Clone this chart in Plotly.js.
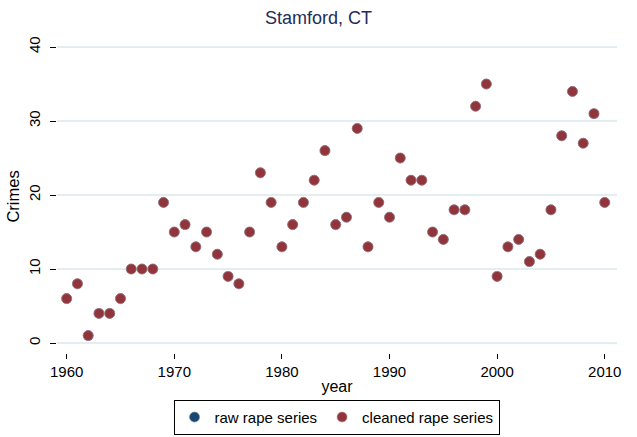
<!DOCTYPE html>
<html>
<head>
<meta charset="utf-8">
<script src="https://cdn.plot.ly/plotly-3.0.1.min.js"></script>
<style>html,body{margin:0;padding:0;background:#fff;}#chart{width:637px;height:437px;}</style>
</head>
<body>
<div id="chart"></div>
<script>
const years = [1960,1961,1962,1963,1964,1965,1966,1967,1968,1969,1970,1971,1972,1973,1974,1975,1976,1977,1978,1979,1980,1981,1982,1983,1984,1985,1986,1987,1988,1989,1990,1991,1992,1993,1994,1995,1996,1997,1998,1999,2000,2001,2002,2003,2004,2005,2006,2007,2008,2009,2010];
const rawRape = [6,8,1,4,4,6,10,10,10,19,15,16,13,15,12,9,8,15,23,19,13,16,19,22,26,16,17,29,13,19,17,25,22,22,15,14,18,18,32,35,9,13,14,11,12,18,28,34,27,31,19];
const cleanedRape = [6,8,1,4,4,6,10,10,10,19,15,16,13,15,12,9,8,15,23,19,13,16,19,22,26,16,17,29,13,19,17,25,22,22,15,14,18,18,32,35,9,13,14,11,12,18,28,34,27,31,19];
const xTicks = [1960,1970,1980,1990,2000,2010];
const yTicks = [0,10,20,30,40];

const traces = [
  {x: years, y: rawRape, type: 'scatter', mode: 'markers', name: 'raw rape series',
   marker: {color: '#1a476f', size: 10, line: {color: '#6a86a0', width: 0.6}}},
  {x: years, y: cleanedRape, type: 'scatter', mode: 'markers', name: 'cleaned rape series',
   marker: {color: '#90353b', size: 10, line: {color: '#b8868a', width: 0.6}}}
];

const layout = {
  width: 637, height: 437,
  margin: {l: 57, r: 20, t: 40, b: 84},
  paper_bgcolor: '#ffffff', plot_bgcolor: '#ffffff',
  font: {family: 'Liberation Sans, Arial, sans-serif', size: 15, color: '#000'},
  title: {text: 'Stamford, CT', x: 0.5, xanchor: 'center', y: 0.96, yanchor: 'middle',
          font: {size: 18, color: '#1e2d5a'}},
  xaxis: {range: [1959.1, 2011.14], tickvals: xTicks, ticks: 'outside', ticklen: 5, tickcolor: '#000',
          tickwidth: 1, showgrid: false, zeroline: false, showline: false,
          title: {text: 'year', standoff: 1, font: {size: 16}}, tickfont: {size: 15}},
  yaxis: {range: [-1.35, 40.95], tickvals: yTicks, ticks: 'outside', ticklen: 6, tickcolor: '#000',
          tickwidth: 1, tickangle: -90, ticklabelstandoff: 4, showgrid: true, gridcolor: '#e4eef0', gridwidth: 1.5,
          zeroline: false, showline: false,
          title: {text: 'Crimes', standoff: 2, font: {size: 16.5}}, tickfont: {size: 15}},
  showlegend: true,
  legend: {orientation: 'h', x: 0.5283, xref: 'container', xanchor: 'center',
           y: 0.005, yref: 'container', yanchor: 'bottom',
           bordercolor: '#000', borderwidth: 1, font: {size: 15}, itemwidth: 30}
};

Plotly.newPlot('chart', traces, layout, {displayModeBar: false, staticPlot: true});
</script>
</body>
</html>
